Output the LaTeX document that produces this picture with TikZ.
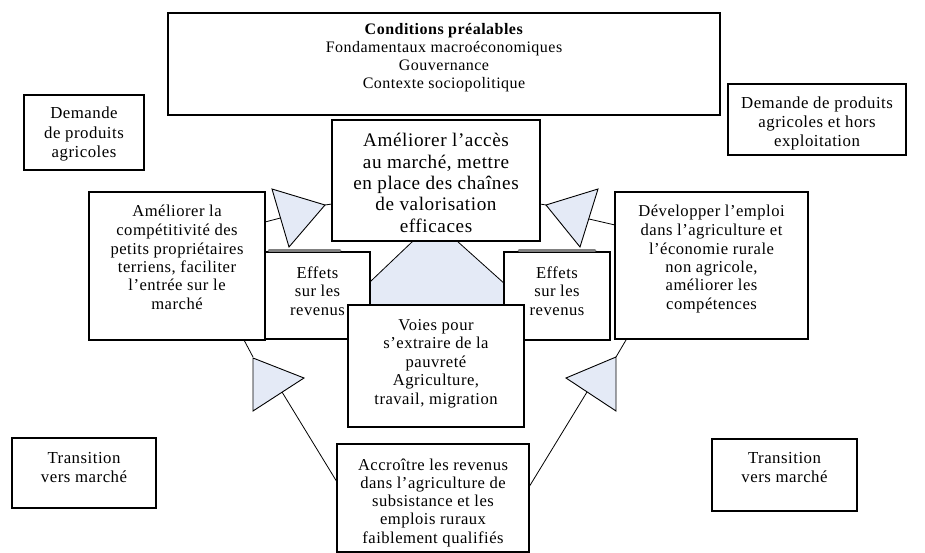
\documentclass[tikz,border=0pt]{standalone}
\usepackage{fontspec}
\setmainfont{Liberation Serif}[LetterSpace=3]
\definecolor{triblue}{RGB}{228,234,246}
\newcommand{\tbl}[3]{\fontsize{#1}{#2}\selectfont\begin{tabular}[t]{@{}c@{}}#3\end{tabular}}
\begin{document}
\begin{tikzpicture}[x=1pt,y=-1pt,
  box/.style={draw, line width=1.3pt, fill=white, inner sep=0pt, rectangle},
  txt/.style={anchor=base, inner sep=0pt},
  conn/.style={line width=0.8pt},
  tri/.style={draw, fill=triblue, line width=0.9pt, line join=miter},
  pent/.style={draw, fill=triblue, line width=0.8pt},
  shade/.style={draw=gray, line width=2.5pt, line cap=round}]
\useasboundingbox (0,0) rectangle (925,553);
\clip (0,0) rectangle (925,553);

% top boxes
\node[box, minimum width=552, minimum height=102] (top) at (444,64) {};
\node[txt] (toptx) at (444,35) {\tbl{16}{18}{\textbf{Conditions préalables}\\Fondamentaux macroéconomiques\\Gouvernance\\Contexte sociopolitique}};
\node[box, minimum width=120, minimum height=75] (dl) at (84,132.5) {};
\node[txt] (dltx) at (84,119) {\tbl{16.8}{19.5}{Demande\\de produits\\agricoles}};
\node[box, minimum width=178, minimum height=71] (dr) at (817,119.5) {};
\node[txt] (drtx) at (817,109) {\tbl{16.8}{19}{Demande de produits\\agricoles et hors\\exploitation}};

% central light blue shape
\draw[pent] (413,241) -- (457,241) -- (545,320) -- (330,320) -- cycle;

% middle boxes
\node[box, minimum width=176, minimum height=148] (lbox) at (177,266) {};
\node[txt] (lboxtx) at (177,217) {\tbl{16.6}{18.5}{Améliorer la\\compétitivité des\\petits propriétaires\\terriens, faciliter\\l’entrée sur le\\marché}};
\node[box, minimum width=105, minimum height=87] (effL) at (317.5,295.5) {};
\node[txt] (effLtx) at (317.5,278) {\tbl{16.6}{18.5}{Effets\\sur les\\revenus}};
\node[box, minimum width=106, minimum height=88] (effR) at (557,296) {};
\node[txt] (effRtx) at (557,278) {\tbl{16.6}{18.5}{Effets\\sur les\\revenus}};
\node[box, minimum width=193, minimum height=147] (rbox) at (711.5,265.5) {};
\node[txt] (rboxtx) at (711.5,217) {\tbl{16.6}{18.5}{Développer l’emploi\\dans l’agriculture et\\l’économie rurale\\non agricole,\\améliorer les\\compétences}};
\node[box, minimum width=208, minimum height=121] (cbox) at (436,180.5) {};
\node[txt] (cboxtx) at (436,147) {\tbl{19.2}{21.3}{Améliorer l’accès\\au marché, mettre\\en place des chaînes\\de valorisation\\efficaces}};
\node[box, minimum width=176, minimum height=122] (voies) at (436,366) {};
\node[txt] (voiestx) at (436,330) {\tbl{16.6}{18.6}{Voies pour\\s’extraire de la\\pauvreté\\Agriculture,\\travail, migration}};

% bottom boxes
\node[box, minimum width=192, minimum height=108] (acc) at (433,498) {};
\node[txt] (acctx) at (433,470) {\tbl{16.6}{18.3}{Accroître les revenus\\dans l’agriculture de\\subsistance et les\\emplois ruraux\\faiblement qualifiés}};
\node[box, minimum width=144, minimum height=70] (trL) at (84,473) {};
\node[txt] (trLtx) at (84,463) {\tbl{16.8}{19}{Transition\\vers marché}};
\node[box, minimum width=145, minimum height=72] (trR) at (784.5,475) {};
\node[txt] (trRtx) at (784.5,463) {\tbl{16.8}{19}{Transition\\vers marché}};

% connector end points
\coordinate (a1) at (265,222);  \coordinate (a2) at (280.5,218);
\coordinate (b1) at (325,205);  \coordinate (b2) at (332,204);
\coordinate (c1) at (540,204);  \coordinate (c2) at (546,205);
\coordinate (d1) at (615,225);  \coordinate (d2) at (589,219);
\coordinate (e1) at (244,340);  \coordinate (e2) at (253,357);
\coordinate (f1) at (337,482);  \coordinate (f2) at (282,392);
\coordinate (g1) at (626,340);  \coordinate (g2) at (616,357);
\coordinate (h1) at (529,487);  \coordinate (h2) at (587,392);
\foreach \p/\q in {a1/a2,b1/b2,c1/c2,d1/d2,e1/e2,f1/f2,g1/g2,h1/h2}
  \draw[conn] (\p) -- (\q);

% triangles
\draw[tri] (272,189) -- (325,205) -- (289,247) -- cycle;
\draw[tri] (598,189) -- (546,205) -- (580,247) -- cycle;
\draw[tri] (253,358) -- (304,378) -- (253,411) -- cycle;
\draw[tri] (616,357) -- (566,378) -- (616,411) -- cycle;

% grey edges on top of the "Effets" boxes
\draw[shade] (269,250.5) -- (340,250.5);
\draw[shade] (519,250.5) -- (595,250.5);
\end{tikzpicture}
\end{document}
